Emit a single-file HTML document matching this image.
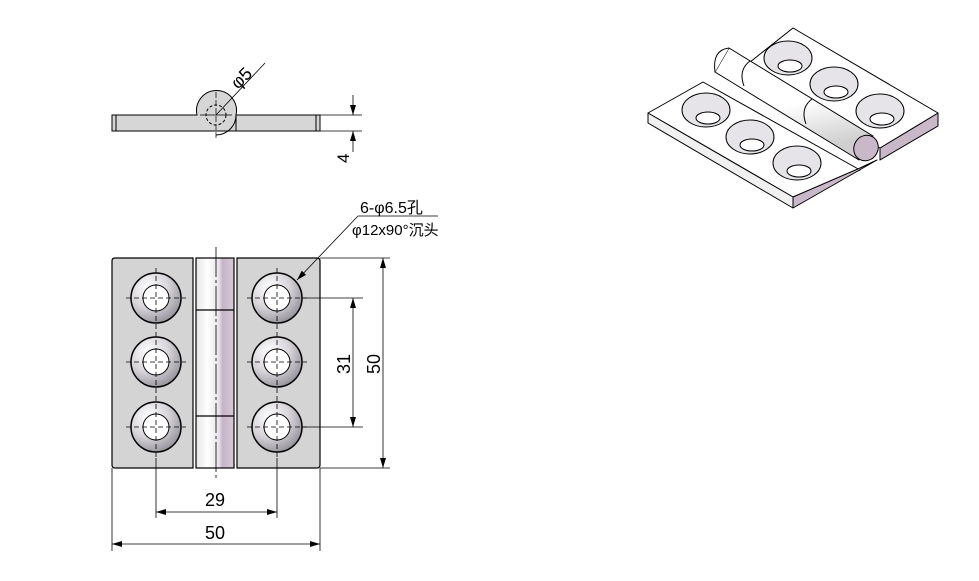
<!DOCTYPE html>
<html><head><style>body{margin:0;background:#fff}svg{display:block}text{font-family:"Liberation Sans","Noto Sans CJK SC",sans-serif;fill:#000}</style></head>
<body>
<svg width="979" height="581" viewBox="0 0 979 581">
<defs>
<radialGradient id="cs" cx="0.35" cy="0.3" r="0.8"><stop offset="0" stop-color="#fff"/><stop offset="0.5" stop-color="#d8d4da"/><stop offset="1" stop-color="#8a8890"/></radialGradient>
<linearGradient id="hg" x1="0" x2="1"><stop offset="0" stop-color="#e6e6e6"/><stop offset="0.3" stop-color="#fff"/><stop offset="0.6" stop-color="#e8e4ea"/><stop offset="0.7" stop-color="#c4b4c6"/><stop offset="1" stop-color="#d8cad8"/></linearGradient>
<linearGradient id="kg" x1="0" y1="0" x2="0.3" y2="1"><stop offset="0" stop-color="#fff"/><stop offset="0.6" stop-color="#fff"/><stop offset="1" stop-color="#cfcfcf"/></linearGradient>
<marker id="a" viewBox="0 0 10 6" refX="10" refY="3" markerWidth="10" markerHeight="6" orient="auto-start-reverse" markerUnits="userSpaceOnUse"><path d="M0,0L10,3L0,6z" fill="#000"/></marker>
</defs>
<!-- side view -->
<g stroke="#000" stroke-width="1">
<rect x="112" y="115" width="208" height="16" fill="#d6d6d6"/>
<line x1="116" y1="115" x2="116" y2="131"/><line x1="316" y1="115" x2="316" y2="131"/>
<path d="M197,115 A20,20 0 1,1 236,115 L236,131" fill="#d6d6d6"/>
<path d="M216,135 A20,20 0 0,0 236,115" fill="none"/>
<circle cx="216" cy="115" r="10" fill="none" stroke-dasharray="3,2"/>
<line x1="216" y1="92" x2="216" y2="138" stroke-width="0.7" stroke-dasharray="6,2"/>
<line x1="200" y1="115" x2="232" y2="115" stroke-width="0.7"/>
<line x1="216" y1="115" x2="265" y2="63" stroke-width="0.8"/>
<line x1="320" y1="115" x2="362" y2="115" stroke-width="0.7"/>
<line x1="320" y1="131" x2="362" y2="131" stroke-width="0.7"/>
<line x1="353" y1="95" x2="353" y2="115" stroke-width="0.8" marker-end="url(#a)"/>
<line x1="353" y1="152" x2="353" y2="131" stroke-width="0.8" marker-end="url(#a)"/>
</g>
<text font-size="18" transform="translate(238,90) rotate(-45)">φ5</text>
<text font-size="17" transform="translate(349,163) rotate(-90)">4</text>
<!-- front view -->
<g stroke="#000" stroke-width="1.2">
<path d="M115,258 H193 V468 H115 Q112,468 112,465 V261 Q112,258 115,258Z" fill="#d4d4d4"/>
<path d="M237,258 H317 Q320,258 320,261 V465 Q320,468 317,468 H237Z" fill="#d4d4d4"/>
<rect x="196" y="258" width="38" height="210" fill="url(#hg)"/>
<line x1="196" y1="310" x2="234" y2="310"/><line x1="196" y1="416" x2="234" y2="416"/>
</g>
<line x1="216" y1="247" x2="216" y2="478" stroke="#000" stroke-width="0.8" stroke-dasharray="30,3,3,3"/>
<g>
<g transform="translate(156,298)"><circle r="25" fill="url(#cs)" stroke="#000" stroke-width="1.5"/><circle r="13" fill="#fff" stroke="#000"/></g>
<g transform="translate(156,362)"><circle r="25" fill="url(#cs)" stroke="#000" stroke-width="1.5"/><circle r="13" fill="#fff" stroke="#000"/></g>
<g transform="translate(156,427)"><circle r="25" fill="url(#cs)" stroke="#000" stroke-width="1.5"/><circle r="13" fill="#fff" stroke="#000"/></g>
<g transform="translate(277,298)"><circle r="25" fill="url(#cs)" stroke="#000" stroke-width="1.5"/><circle r="13" fill="#fff" stroke="#000"/></g>
<g transform="translate(277,362)"><circle r="25" fill="url(#cs)" stroke="#000" stroke-width="1.5"/><circle r="13" fill="#fff" stroke="#000"/></g>
<g transform="translate(277,427)"><circle r="25" fill="url(#cs)" stroke="#000" stroke-width="1.5"/><circle r="13" fill="#fff" stroke="#000"/></g>
</g>
<g stroke="#000" stroke-width="0.8" stroke-dasharray="5,3">
<line x1="156" y1="268" x2="156" y2="458"/><line x1="277" y1="268" x2="277" y2="458"/>
<line x1="126" y1="298" x2="186" y2="298"/><line x1="126" y1="362" x2="186" y2="362"/><line x1="126" y1="427" x2="186" y2="427"/>
<line x1="247" y1="298" x2="307" y2="298"/><line x1="247" y1="362" x2="307" y2="362"/><line x1="247" y1="427" x2="307" y2="427"/>
</g>
<g stroke="#000" stroke-width="0.8">
<line x1="156" y1="458" x2="156" y2="518"/><line x1="277" y1="458" x2="277" y2="518"/>
<line x1="112" y1="468" x2="112" y2="551"/><line x1="320" y1="468" x2="320" y2="551"/>
<line x1="156" y1="512" x2="277" y2="512" marker-start="url(#a)" marker-end="url(#a)"/>
<line x1="112" y1="544" x2="320" y2="544" marker-start="url(#a)" marker-end="url(#a)"/>
<line x1="302" y1="298" x2="363" y2="298"/><line x1="302" y1="427" x2="363" y2="427"/>
<line x1="320" y1="258" x2="390" y2="258"/><line x1="320" y1="468" x2="390" y2="468"/>
<line x1="353" y1="298" x2="353" y2="427" marker-start="url(#a)" marker-end="url(#a)"/>
<line x1="383" y1="258" x2="383" y2="468" marker-start="url(#a)" marker-end="url(#a)"/>
<line x1="297" y1="280" x2="358" y2="216" marker-start="url(#a)"/>
<line x1="358" y1="216" x2="438" y2="216"/>
</g>
<text x="205" y="506" font-size="18">29</text>
<text x="205" y="539" font-size="18">50</text>
<text font-size="18" transform="translate(350,374) rotate(-90)">31</text>
<text font-size="18" transform="translate(380,374) rotate(-90)">50</text>
<text x="360" y="213" font-size="16">6-φ6.5孔</text>
<text x="352" y="235" font-size="15">φ12x90°沉头</text>
<!-- 3D view -->
<g stroke="#000" stroke-width="1" stroke-linejoin="round">
<path d="M880,148 L938,113 L938,126 L880,160Z" fill="#c8b8c8"/>
<path d="M793,28 L938,113 L880,148 L740,70Z" fill="#fff"/>
<path d="M648,113 L703,82 L860,170 L793,197Z" fill="#fff"/>
<path d="M648,113 L648,123 L793,208 L793,197Z" fill="#f0f0f0"/>
<path d="M793,197 L793,208 L877,160 L860,168Z" fill="#c8b8c8"/>
<path d="M729,48 L873,136 L859,160 L715,72 Z" fill="url(#kg)"/>
<path d="M729,48 Q712,50 715,72" fill="#fff"/>
<ellipse cx="866" cy="148" rx="12" ry="13" transform="rotate(30 866 148)" fill="#c8b8c8"/>
<path d="M750,61 Q738,70 744,86 M812,99 Q800,108 806,124" fill="none"/>
</g>
<g stroke="#000" stroke-width="1" fill="#e6e4e8">
<ellipse cx="788" cy="58" rx="24" ry="17"/><ellipse cx="834" cy="84" rx="24" ry="17"/><ellipse cx="880" cy="111" rx="24" ry="17"/>
<ellipse cx="706" cy="110" rx="24" ry="17"/><ellipse cx="750" cy="137" rx="24" ry="17"/><ellipse cx="797" cy="163" rx="24" ry="17"/>
</g>
<g stroke="#000" stroke-width="1" fill="#fff">
<ellipse cx="790" cy="66" rx="12" ry="6"/><ellipse cx="836" cy="92" rx="12" ry="6"/><ellipse cx="882" cy="119" rx="12" ry="6"/>
<ellipse cx="708" cy="118" rx="12" ry="6"/><ellipse cx="752" cy="145" rx="12" ry="6"/><ellipse cx="799" cy="171" rx="12" ry="6"/>
</g>
</svg>
</body></html>
